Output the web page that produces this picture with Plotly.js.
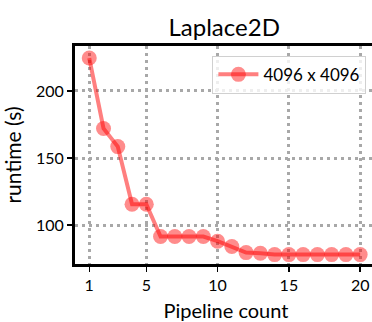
<!DOCTYPE html>
<html><head><meta charset="utf-8">
<script src="https://cdn.plot.ly/plotly-3.0.1.min.js"></script>
<style>html,body{margin:0;padding:0;overflow:hidden;background:#fff}#chart{width:380px;height:322px}</style>
</head><body><div id="chart"></div>
<script>
const pipelineCount = [1,2,3,4,5,6,7,8,9,10,11,12,13,14,15,16,17,18,19,20];
const runtime = [224.5,172,158.5,115.5,115.5,91.5,91.5,91.5,91.5,88,84,79.5,79,78,78,78,78,78,78,78];
const seriesName = '4096 x 4096';
const xTicks = [1,5,10,15,20];
const yTicks = [100,150,200];

const fontFam = 'Lato, "DejaVu Sans", sans-serif';
const trace = {
  x: pipelineCount, y: runtime, name: seriesName,
  mode: 'lines+markers', type: 'scatter',
  line: {color: 'rgba(255,0,0,0.5)', width: 4},
  marker: {color: 'rgba(255,0,0,0.45)', size: 15, line: {width: 0}},
  showlegend: true
};
const gridCommon = {showgrid: true, gridcolor: '#a8a8a8', gridwidth: 3, griddash: '3px,4px',
  zeroline: false, showline: true, linecolor: '#000', linewidth: 3, mirror: true,
  ticks: 'outside', ticklen: 5, tickwidth: 1.5, tickcolor: '#000',
  tickfont: {family: fontFam, size: 16, color: '#000'}};
const layout = {
  width: 380, height: 322,
  margin: {l: 75, r: 3, t: 46, b: 58},
  paper_bgcolor: '#fff', plot_bgcolor: '#fff',
  title: {text: 'Laplace2D', font: {family: fontFam, size: 24, color: '#000'}, x: 0.59, xanchor: 'center', y: 0.915, yanchor: 'middle'},
  xaxis: Object.assign({}, gridCommon, {range: [0, 21.18], tickvals: xTicks, ticktext: xTicks.map(String),
    title: {text: 'Pipeline count', font: {family: fontFam, size: 20, color: '#000'}, standoff: 13}}),
  yaxis: Object.assign({}, gridCommon, {range: [71, 233.5], tickvals: yTicks, ticktext: yTicks.map(String),
    title: {text: 'runtime (s)', font: {family: fontFam, size: 21, color: '#000'}, standoff: 9}}),
  legend: {x: 0.455, y: 0.955, xanchor: 'left', yanchor: 'top', bgcolor: 'rgba(255,255,255,0.8)',
    bordercolor: '#d0d0d0', borderwidth: 1, font: {family: fontFam, size: 17, color: '#000'}, itemwidth: 40}
};
Plotly.newPlot('chart', [trace], layout, {displayModeBar: false, staticPlot: true});
</script></body></html>
